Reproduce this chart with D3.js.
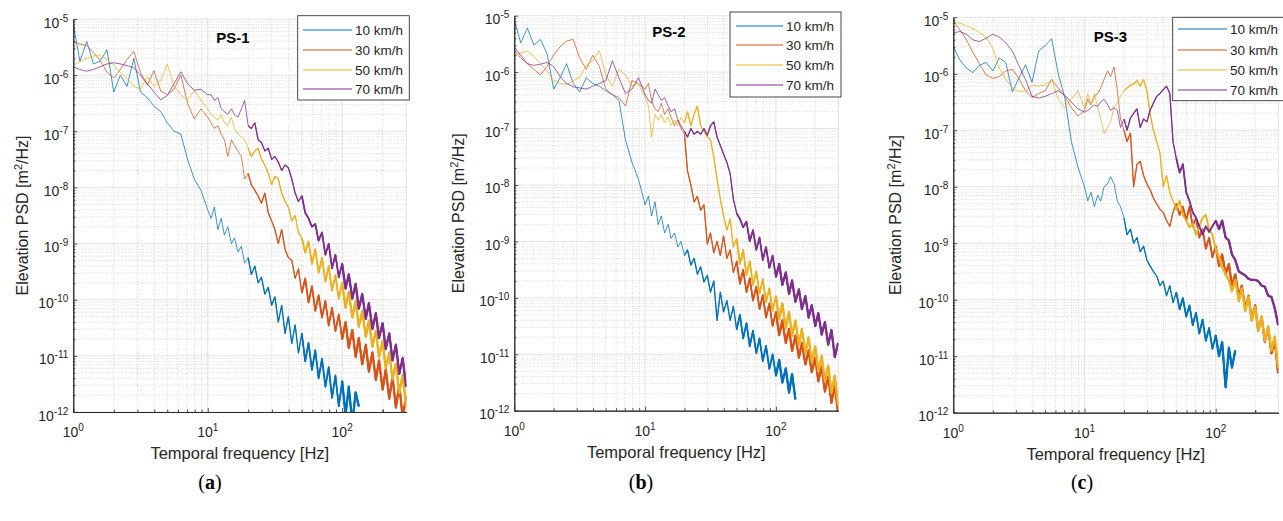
<!DOCTYPE html>
<meta charset="utf-8">
<style>
  body { margin: 0; background: #fff; }
  svg text { font-family: "Liberation Sans", Arial, Helvetica, sans-serif; fill: #262626; }
</style>
<body>
<svg id="chart" width="1283" height="521"></svg>
<script src="https://d3js.org/d3.v7.min.js"></script>
<script>
// frequency grid (Hz) shared by every trace
var freqHz = [1, 1.12, 1.26, 1.41, 1.58, 1.78, 2, 2.24, 2.51, 2.82, 3.16, 3.55, 3.98, 4.47, 5.01, 5.62, 6.31, 7.08, 7.94, 8.91, 10,
  10.6, 11.2, 11.9, 12.6, 13.3, 14.1, 15, 15.8, 16.8, 17.8, 18.8, 20, 21.1, 22.4, 23.7, 25.1, 26.6, 28.2, 29.9,
  31.6, 33.5, 35.5, 37.6, 39.8, 42.2, 44.7, 47.3, 50.1, 53.1, 56.2, 59.6, 63.1, 66.8, 70.8, 75, 79.4, 84.1, 89.1, 94.4,
  100, 106, 112, 119, 126, 133, 141, 150, 158, 168, 178, 188, 200, 211, 224, 237, 251, 266, 282, 299];

var speeds = ["10 km/h", "30 km/h", "50 km/h", "70 km/h"];
var colors = ["#0072BD", "#D95319", "#EDB120", "#7E2F8E"];
var panelNames = ["PS-1", "PS-2", "PS-3"];
var captions = ["a", "b", "c"];
var xTickExp = [0, 1, 2];
var yTickExp = [-12, -11, -10, -9, -8, -7, -6, -5];

// log10 of elevation PSD [m^2/Hz] (null = no data)
var ps1_10 = [-5.1, -5.75, -5.4, -5.8, -5.75, -5.55, -6.3, -6.0, -6.2, -5.7, -6.3, -6.4, -6.55, -6.65, -6.85, -7.0, -7.05, -7.5, -7.85, -8.05, -8.4,
  -8.55, -8.35, -8.75, -8.55, -8.85, -8.7, -9.0, -8.9, -9.15, -9.05, -9.35, -9.25, -9.55, -9.4, -9.7, -9.6, -9.9, -9.78, -10.1, -9.95,
  -10.4, -10.1, -10.6, -10.3, -10.78, -10.45, -10.95, -10.6, -11.1, -10.77, -11.25, -10.9, -11.4, -11.05, -11.55, -11.2, -11.75, -11.35, -11.9, -11.45,
  -12.05, -11.55, -12.2, -11.65, -11.9, null, null, null, null, null, null, null, null, null, null, null, null, null, null];
var ps1_30 = [-5.4, -5.45, -5.47, -5.6, -5.73, -5.95, -6.05, -5.9, -5.72, -5.58, -5.95, -6.18, -5.92, -6.28, -6.35, -6.25, -6.0, -6.5, -6.78, -6.6, -6.75,
  -6.85, -6.95, -6.9, -7.05, -7.15, -7.45, -7.15, -7.25, -7.35, -7.45, -7.85, -7.75, -7.95, -8.05, -8.15, -8.28, -8.1, -8.45, -8.6, -8.75,
  -9.0, -8.75, -9.1, -9.25, -9.3, -9.62, -9.45, -9.88, -9.62, -10.05, -9.76, -10.2, -9.92, -10.32, -10.02, -10.46, -10.14, -10.56, -10.26, -10.7,
  -10.4, -10.86, -10.54, -11.02, -10.68, -11.15, -10.8, -11.28, -10.94, -11.43, -11.08, -11.6, -11.24, -11.76, -11.38, -11.92, -11.52, -12.1, -11.72];
var ps1_50 = [-5.82, -5.76, -5.7, -5.66, -5.64, -5.72, -5.82, -5.95, -6.06, -6.2, -6.25, -6.03, -6.2, -6.1, -5.8, -6.2, -6.35, -6.45, -6.27, -6.45, -6.6,
  -6.7, -6.75, -6.8, -6.7, -6.85, -6.9, -6.75, -6.95, -7.05, -7.1, -7.15, -7.3, -7.45, -7.35, -7.3, -7.5, -7.6, -7.75, -7.95, -7.8,
  -7.85, -8.1, -8.25, -8.35, -8.6, -8.5, -8.8, -8.9, -9.16, -8.96, -9.36, -9.1, -9.52, -9.25, -9.68, -9.4, -9.84, -9.56, -9.98, -9.7,
  -10.14, -9.86, -10.32, -10.02, -10.48, -10.2, -10.66, -10.37, -10.84, -10.55, -11.02, -10.74, -11.22, -10.94, -11.42, -11.14, -11.66, -11.34, -11.9];
var ps1_70 = [-5.85, -5.9, -5.93, -5.9, -5.85, -5.8, -5.78, -5.8, -5.83, -5.87, -6.0, -6.15, -6.3, -6.44, -6.36, -6.15, -5.94, -6.15, -6.27, -6.25, -6.35,
  -6.35, -6.45, -6.4, -6.6, -6.65, -6.7, -6.6, -6.7, -6.75, -6.6, -6.45, -6.9, -6.95, -6.85, -7.15, -7.2, -7.35, -7.3, -7.5, -7.45,
  -7.55, -7.7, -7.6, -7.65, -7.85, -8.1, -8.25, -8.15, -8.45, -8.55, -8.7, -8.65, -8.95, -8.8, -9.2, -9.0, -9.44, -9.2, -9.6, -9.36,
  -9.8, -9.55, -9.98, -9.72, -10.16, -9.9, -10.34, -10.06, -10.52, -10.24, -10.68, -10.42, -10.88, -10.6, -11.08, -10.8, -11.32, -11.04, -11.55];

var ps2_10 = [-5.08, -5.48, -5.22, -5.52, -5.42, -5.67, -6.3, -6.1, -5.85, -6.2, -6.35, -6.1, -6.2, -6.25, -6.33, -6.4, -6.5, -7.2, -7.6, -7.9, -8.35,
  -8.2, -8.55, -8.3, -8.7, -8.55, -8.85, -8.7, -8.95, -8.85, -9.1, -9.0, -9.25, -9.15, -9.42, -9.3, -9.58, -9.45, -9.72, -9.6, -9.9,
  -9.7, -10.4, -9.9, -10.25, -10.05, -10.4, -10.15, -10.56, -10.3, -10.72, -10.45, -10.86, -10.58, -10.98, -10.72, -11.12, -10.85, -11.26, -11.0, -11.38,
  -11.1, -11.5, -11.25, -11.68, -11.35, -11.8, null, null, null, null, null, null, null, null, null, null, null, null, null];
var ps2_30 = [-5.61, -5.75, -5.85, -5.95, -6.05, -5.9, -5.7, -5.55, -5.45, -5.42, -5.75, -5.95, -5.7, -5.9, -6.3, -6.4, -6.45, -6.6, -6.15, -6.2, -6.3,
  -6.2, -6.5, -6.65, -6.7, -6.55, -6.75, -6.65, -6.8, -6.95, -6.85, -7.0, -7.1, -7.75, -8.0, -8.3, -8.2, -8.45, -8.35, -9.05, -8.85,
  -9.2, -9.0, -9.25, -8.9, -9.3, -9.15, -9.55, -9.35, -9.75, -9.5, -9.9, -9.65, -10.05, -9.8, -10.2, -9.95, -10.35, -10.1, -10.5, -10.25,
  -10.66, -10.4, -10.8, -10.55, -10.94, -10.67, -11.06, -10.8, -11.18, -10.93, -11.32, -11.06, -11.48, -11.22, -11.66, -11.4, -11.86, -11.56, -12.05];
var ps2_50 = [-5.7, -5.66, -5.63, -5.72, -5.85, -5.98, -6.15, -6.2, -6.22, -6.15, -6.1, -5.88, -5.8, -5.62, -6.05, -6.25, -5.95, -6.05, -6.25, -6.2, -6.45,
  -6.6, -7.15, -6.75, -6.85, -6.75, -6.9, -6.8, -6.95, -6.85, -6.95, -6.8, -6.9, -6.7, -6.95, -6.75, -6.6, -6.95, -7.05, -7.15, -7.2,
  -7.5, -7.9, -8.25, -8.55, -8.8, -8.6, -9.1, -8.95, -9.4, -9.15, -9.6, -9.35, -9.77, -9.53, -9.93, -9.67, -10.07, -9.83, -10.23, -9.97,
  -10.38, -10.1, -10.54, -10.25, -10.68, -10.4, -10.84, -10.55, -10.98, -10.7, -11.14, -10.86, -11.3, -11.03, -11.48, -11.2, -11.68, -11.38, -11.9];
var ps2_70 = [-5.55, -5.7, -5.85, -5.88, -5.86, -5.83, -5.9, -6.08, -6.2, -6.26, -6.28, -6.3, -6.25, -6.2, -6.15, -5.8, -6.1, -6.38, -6.3, -6.1, -6.4,
  -6.5, -6.55, -6.3, -6.4, -6.5, -6.45, -6.6, -6.7, -6.65, -6.85, -6.95, -7.05, -7.15, -7.0, -7.1, -7.05, -7.1, -7.0, -7.12, -6.95,
  -6.88, -7.15, -7.3, -7.45, -7.6, -7.8, -8.25, -8.5, -8.6, -8.75, -8.65, -9.0, -8.8, -9.15, -8.93, -9.33, -9.1, -9.47, -9.25, -9.63,
  -9.4, -9.77, -9.55, -9.93, -9.69, -10.07, -9.85, -10.2, -9.97, -10.35, -10.13, -10.5, -10.27, -10.65, -10.43, -10.83, -10.57, -11.05, -10.8];

var ps3_10 = [-5.52, -5.75, -5.9, -5.98, -5.85, -5.8, -5.95, -5.72, -5.8, -6.32, -6.08, -5.84, -6.15, -5.6, -5.5, -5.38, -6.0, -6.42, -7.2, -7.65, -8.0,
  -8.25, -8.1, -8.35, -8.15, -8.25, -8.0, -7.95, -7.82, -7.95, -8.25, -8.35, -8.55, -8.85, -8.75, -9.0, -8.9, -9.15, -9.05, -9.3, -9.4,
  -9.5, -9.58, -9.75, -9.67, -9.93, -9.75, -10.05, -9.87, -10.17, -9.97, -10.3, -10.1, -10.45, -10.23, -10.6, -10.35, -10.73, -10.5, -10.87, -10.63,
  -11.0, -10.75, -11.55, -10.85, -11.2, -10.9, null, null, null, null, null, null, null, null, null, null, null, null, null];
var ps3_30 = [-5.05, -5.22, -5.4, -5.62, -5.82, -6.02, -6.08, -6.05, -5.95, -5.92, -6.08, -6.3, -6.42, -6.35, -6.3, -6.1, -6.25, -6.4, -6.6, -6.75, -6.65,
  -6.45, -6.55, -6.4, -6.35, -6.25, -6.1, -5.95, -6.05, -5.88, -6.3, -6.8, -7.0, -7.2, -7.05, -8.0, -7.6, -7.55, -7.8, -7.95, -8.05,
  -8.2, -8.3, -8.4, -8.45, -8.6, -8.7, -8.45, -8.3, -8.5, -8.35, -8.6, -8.35, -8.7, -8.55, -8.9, -8.75, -9.1, -8.9, -9.25, -9.05,
  -9.4, -9.2, -9.55, -9.37, -9.75, -9.55, -9.95, -9.75, -10.15, -9.93, -10.35, -10.1, -10.55, -10.3, -10.75, -10.5, -10.95, -10.73, -11.3];
var ps3_50 = [-5.1, -5.1, -5.15, -5.2, -5.27, -5.35, -5.55, -5.9, -6.1, -6.25, -6.32, -6.3, -6.2, -6.22, -6.2, -6.1, -6.45, -6.6, -6.45, -6.3, -6.6,
  -6.35, -6.55, -6.35, -6.6, -6.8, -7.05, -6.95, -6.85, -6.6, -6.5, -6.4, -6.3, -6.25, -6.2, -6.18, -6.12, -6.22, -6.1, -6.3, -6.7,
  -7.0, -7.2, -7.4, -8.0, -7.8, -8.1, -8.25, -8.4, -8.25, -8.5, -8.6, -8.72, -8.65, -8.85, -8.7, -8.55, -8.5, -8.75, -8.85, -9.1,
  -9.25, -9.42, -9.55, -9.65, -9.85, -9.65, -10.03, -9.8, -10.2, -9.95, -10.37, -10.13, -10.55, -10.3, -10.73, -10.47, -10.9, -10.65, -11.2];
var ps3_70 = [-5.28, -5.25, -5.3, -5.4, -5.43, -5.37, -5.3, -5.35, -5.45, -5.6, -5.85, -6.1, -6.4, -6.43, -6.4, -6.35, -6.3, -6.38, -6.5, -6.62, -6.68,
  -6.65, -6.6, -6.55, -6.58, -6.5, -6.45, -6.55, -6.65, -6.6, -6.65, -6.95, -6.8, -7.0, -6.78, -6.7, -6.62, -6.95, -6.8, -6.85, -6.65,
  -6.52, -6.4, -6.35, -6.28, -6.22, -6.35, -7.2, -7.5, -7.75, -7.6, -8.1, -8.25, -8.45, -8.55, -8.7, -8.85, -8.7, -8.8, -8.7, -8.6,
  -8.75, -8.6, -8.9, -8.95, -9.2, -9.3, -9.5, -9.53, -9.57, -9.63, -9.65, -9.65, -9.67, -9.75, -9.77, -9.93, -9.95, -10.15, -10.45];

var panelSeries = [
  [ps1_10, ps1_30, ps1_50, ps1_70],
  [ps2_10, ps2_30, ps2_50, ps2_70],
  [ps3_10, ps3_30, ps3_50, ps3_70]
];

// page layout (pixels)
var panels = [
  {left: 73.3, top: 19, width: 333, height: 393, ylabX: 22.5, titleX: 233, titleY: 43, capX: 210,
   leg: {x: 297.7, y: 15.7, w: 111.6, h: 84.3, rows: [30, 50, 70, 89], x1: 303, x2: 352, tx: 355}},
  {left: 514.3, top: 15.7, width: 324, height: 395, ylabX: 458, titleX: 669, titleY: 37, capX: 641,
   leg: {x: 730, y: 12, w: 111, h: 85, rows: [26, 45, 65, 85], x1: 736, x2: 783, tx: 786}},
  {left: 953.3, top: 17.3, width: 325, height: 395.4, ylabX: 895, titleX: 1110.5, titleY: 42, capX: 1082,
   leg: {x: 1172.7, y: 17.3, w: 112, h: 83.4, rows: [29, 50, 70, 90], x1: 1178, x2: 1227, tx: 1230}}
];
// the linearly sampled spectra crowd together at high frequency: draw those parts heavier
var denseTiers = [{from: 20, width: 1.25}, {from: 50, width: 1.8}, {from: 100, width: 2.3}];

var xMinor = [];
[1, 10, 100].forEach(function(b) {
  for (var k = 2; k <= 9; k++) if (k * b < 300) xMinor.push(k * b);
});
var yMinor = [];
yTickExp.slice(0, -1).forEach(function(e) {
  for (var k = 2; k <= 9; k++) yMinor.push(k * Math.pow(10, e));
});
var xMajor = xTickExp.map(function(e) { return Math.pow(10, e); });
var yMajor = yTickExp.map(function(e) { return Math.pow(10, e); });

var svg = d3.select("#chart");

panels.forEach(function(p, i) {
  var x = d3.scaleLog().domain([1, 300]).range([0, p.width]);
  var y = d3.scaleLog().domain([1e-12, 1e-5]).range([p.height, 0]);

  var g = svg.append("g").attr("transform", "translate(" + p.left + "," + p.top + ")");

  // grid
  var grid = g.append("g");
  grid.selectAll("line.xm").data(xMinor).join("line")
    .attr("x1", function(d) { return x(d); }).attr("x2", function(d) { return x(d); })
    .attr("y1", 0).attr("y2", p.height)
    .attr("stroke", "#c9c9c9").attr("stroke-width", 0.7).attr("stroke-dasharray", "1,1.5");
  grid.selectAll("line.ym").data(yMinor).join("line")
    .attr("y1", function(d) { return y(d); }).attr("y2", function(d) { return y(d); })
    .attr("x1", 0).attr("x2", p.width)
    .attr("stroke", "#c9c9c9").attr("stroke-width", 0.7).attr("stroke-dasharray", "1,1.5");
  grid.selectAll("line.xM").data(xMajor.concat([300])).join("line")
    .attr("x1", function(d) { return x(d); }).attr("x2", function(d) { return x(d); })
    .attr("y1", 0).attr("y2", p.height)
    .attr("stroke", "#dcdcdc").attr("stroke-width", 0.8);
  grid.selectAll("line.yM").data(yMajor).join("line")
    .attr("y1", function(d) { return y(d); }).attr("y2", function(d) { return y(d); })
    .attr("x1", 0).attr("x2", p.width)
    .attr("stroke", "#dcdcdc").attr("stroke-width", 0.8);

  // traces
  var clipId = "clip" + i;
  g.append("clipPath").attr("id", clipId).append("rect")
    .attr("width", p.width).attr("height", p.height);

  var line = d3.line()
    .defined(function(d) { return d[1] !== null; })
    .x(function(d) { return x(d[0]); })
    .y(function(d) { return y(Math.pow(10, d[1])); });

  var traces = g.append("g").attr("clip-path", "url(#" + clipId + ")");
  panelSeries[i].forEach(function(vals, k) {
    var pts = freqHz.map(function(f, j) { return [f, vals[j]]; });
    traces.append("path").datum(pts)
      .attr("d", line)
      .attr("fill", "none")
      .attr("stroke", colors[k])
      .attr("stroke-opacity", 0.85)
      .attr("stroke-width", 0.9)
      .attr("stroke-linejoin", "round");
    denseTiers.forEach(function(t) {
      traces.append("path").datum(pts.filter(function(d) { return d[0] >= t.from; }))
        .attr("d", line)
        .attr("fill", "none")
        .attr("stroke", colors[k])
        .attr("stroke-width", t.width)
        .attr("stroke-linejoin", "round");
    });
  });

  // axes (ticks inside)
  var ax = g.append("g").attr("transform", "translate(0," + p.height + ")");
  ax.call(d3.axisBottom(x).tickValues(xMajor).tickSize(-4).tickSizeOuter(0).tickFormat(""));
  var axm = g.append("g").attr("transform", "translate(0," + p.height + ")");
  axm.call(d3.axisBottom(x).tickValues(xMinor.concat([200])).tickSize(-2.5).tickSizeOuter(0).tickFormat(""));
  var ay = g.append("g");
  ay.call(d3.axisLeft(y).tickValues(yMajor).tickSize(-4).tickSizeOuter(0).tickFormat(""));
  var aym = g.append("g");
  aym.call(d3.axisLeft(y).tickValues(yMinor).tickSize(-2).tickSizeOuter(0).tickFormat(""));
  [ax, axm, ay, aym].forEach(function(a) {
    a.selectAll("path.domain").attr("stroke", "#262626").attr("stroke-width", 0.9);
    a.selectAll(".tick line").attr("stroke", "#262626").attr("stroke-width", 0.8);
  });

  // tick labels 10^n
  var xl = g.append("g").selectAll("text").data(xTickExp).join("text")
    .attr("x", function(d) { return x(Math.pow(10, d)); })
    .attr("y", p.height + 25)
    .attr("text-anchor", "middle")
    .style("font-size", "14px");
  xl.append("tspan").text("10");
  xl.append("tspan").attr("dy", -6).style("font-size", "10px").text(function(d) { return d; });

  var yl = g.append("g").selectAll("text").data(yTickExp).join("text")
    .attr("x", -5)
    .attr("y", function(d) { return y(Math.pow(10, d)) + 8.5; })
    .attr("text-anchor", "end")
    .style("font-size", "14px");
  yl.append("tspan").text("10");
  yl.append("tspan").attr("dy", -6).style("font-size", "10px").text(function(d) { return d; });

  // axis titles
  g.append("text")
    .attr("x", p.width / 2).attr("y", p.height + 47)
    .attr("text-anchor", "middle").style("font-size", "16.5px")
    .text("Temporal frequency [Hz]");

  var yt = svg.append("text")
    .attr("transform", "translate(" + p.ylabX + "," + (p.top + p.height / 2) + ") rotate(-90)")
    .attr("text-anchor", "middle").attr("dy", "0.35em").style("font-size", "16px");
  yt.append("tspan").text("Elevation PSD [m");
  yt.append("tspan").attr("dy", -6).style("font-size", "11px").text("2");
  yt.append("tspan").attr("dy", 6).text("/Hz]");

  // panel title
  svg.append("text")
    .attr("x", p.titleX).attr("y", p.titleY)
    .attr("text-anchor", "middle").style("font-size", "15px").style("font-weight", "bold")
    .style("fill", "#000")
    .text(panelNames[i]);

  // legend
  var L = p.leg;
  var lg = svg.append("g");
  lg.append("rect").attr("x", L.x).attr("y", L.y).attr("width", L.w).attr("height", L.h)
    .attr("fill", "#fff").attr("stroke", "#333").attr("stroke-width", 0.9);
  speeds.forEach(function(s, k) {
    lg.append("line").attr("x1", L.x1).attr("x2", L.x2)
      .attr("y1", L.rows[k]).attr("y2", L.rows[k])
      .attr("stroke", colors[k]).attr("stroke-width", 1);
    lg.append("text").attr("x", L.tx).attr("y", L.rows[k] + 4.8)
      .style("font-size", "13.5px").text(s);
  });

  // caption
  var cap = svg.append("text")
    .attr("x", p.capX).attr("y", 489)
    .attr("text-anchor", "middle")
    .style("font-family", "'Liberation Serif', 'DejaVu Serif', serif")
    .style("font-size", "20px").style("fill", "#000");
  cap.append("tspan").text("(");
  cap.append("tspan").style("font-weight", "bold").text(captions[i]);
  cap.append("tspan").text(")");
});
</script>
</body>
